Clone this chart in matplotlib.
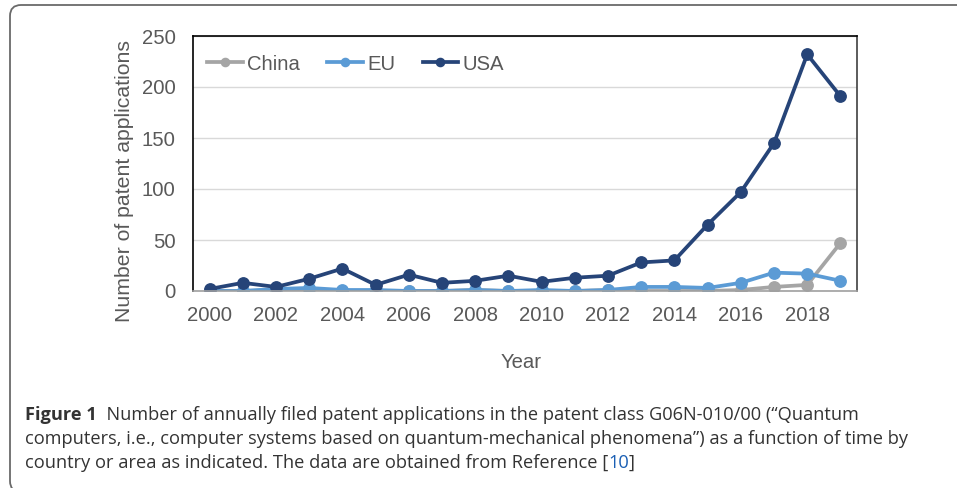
import matplotlib
matplotlib.use("Agg")
import matplotlib.pyplot as plt
from matplotlib.patches import FancyBboxPatch
from matplotlib.transforms import Affine2D

years = list(range(2000, 2020))
china = [0, 0, 1, 2, 0, 0, 0, 0, 1, 0, 0, 0, 1, 0, 0, 0, 1, 4, 6, 47]
eu = [0, 0, 2, 3, 1, 1, 0, 0, 1, 0, 1, 0, 1, 4, 4, 3, 8, 18, 17, 10]
usa = [2, 8, 4, 12, 22, 6, 16, 8, 10, 15, 9, 13, 15, 28, 30, 65, 97, 145, 232, 191]
series_names = ["China", "EU", "USA"]
colors = ["#A5A5A5", "#5B9BD5", "#264478"]
xticks = list(range(2000, 2020, 2))
yticks = [0, 50, 100, 150, 200, 250]

W, H = 957, 488
fig = plt.figure(figsize=(W / 100, H / 100), dpi=100)
px = Affine2D().scale(1 / W, 1 / H) + fig.transFigure  # pixel coords, y up

chart_font = "Liberation Sans"
cap_font = "Open Sans"
tick_col = "#595959"
fsz = 14.6

# outer rounded frame
box = FancyBboxPatch((10, -4), 1100, 487, boxstyle="round,pad=0,rounding_size=11",
                     transform=px, fill=False, edgecolor="#6a6a6a", linewidth=1.3)
fig.patches.append(box)

ax = fig.add_axes([193 / W, 1 - 291 / H, (857 - 193) / W, (291 - 36) / H])
for name, vals, c in zip(series_names, [china, eu, usa], colors):
    ax.plot(years, vals, color=c, lw=2.7, marker="o", markersize=8.2, label=name)

ax.set_xlim(1999.5, 2019.5)
ax.set_ylim(0, 250)
ax.set_xticks(xticks)
ax.set_yticks(yticks)
ax.grid(axis="y", color="#D9D9D9", lw=1)
ax.set_axisbelow(True)
ax.spines["top"].set_color("black")
ax.spines["left"].set_color("black")
ax.spines["right"].set_color("#404040")
for s in ["top", "right", "left"]:
    ax.spines[s].set_linewidth(1.2)
ax.spines["bottom"].set_color("#A0A0A0")
ax.spines["bottom"].set_linewidth(1.2)
ax.tick_params(axis="y", length=0, labelsize=fsz, labelcolor=tick_col, pad=12.5)
ax.tick_params(axis="x", length=0, labelsize=fsz, labelcolor=tick_col, pad=11)
for lab in ax.get_xticklabels() + ax.get_yticklabels():
    lab.set_fontfamily(chart_font)

fig.text(125, 181, "Number of patent applications", transform=None, fontsize=15.3,
         color=tick_col, family=chart_font, rotation=90, ha="center", va="center")
fig.texts[-1].set_transform(Affine2D().translate(0, 0) + px)
fig.texts[-1].set_position((125, H - 181))
fig.text(521, H - 363, "Year", fontsize=fsz, color=tick_col, family=chart_font,
         ha="center", va="center", transform=px)

leg = ax.legend(loc="center left", ncol=3, frameon=False,
                handlelength=1.77, handletextpad=0.2, columnspacing=1.35,
                borderpad=0, borderaxespad=0, markerscale=0.72,
                bbox_to_anchor=((207 - 193) / 664, (291 - 64) / 255),
                prop={"family": chart_font, "size": fsz})
for t in leg.get_texts():
    t.set_color(tick_col)

# caption with mixed styles
fig.canvas.draw()
renderer = fig.canvas.get_renderer()
capcol = "#333333"
line1 = [("Figure 1", "bold", capcol),
         ("  Number of annually filed patent applications in the patent class G06N-010/00 (\u201cQuantum", "normal", capcol)]
line2 = [("computers, i.e., computer systems based on quantum-mechanical phenomena\u201d) as a function of time by", "normal", capcol)]
line3 = [("country or area as indicated. The data are obtained from Reference [", "normal", capcol),
         ("10", "normal", "#1a5fb4"), ("]", "normal", capcol)]

# size caption font so that the second line spans its width in the reference
probe = fig.text(0, 0, line2[0][0], fontsize=12, family=cap_font)
wprobe = probe.get_window_extent(renderer).width
probe.remove()
fs = 12 * 883 / wprobe

def run(x, y, pieces):
    for txt, weight, col in pieces:
        t = fig.text(x, H - y, txt, fontsize=fs, family=cap_font, transform=px,
                     weight=weight, color=col, va="baseline", ha="left")
        x += t.get_window_extent(renderer).width

run(25, 420, line1)
run(25, 444, line2)
run(25, 468, line3)

fig.savefig("out.png", dpi=100)
